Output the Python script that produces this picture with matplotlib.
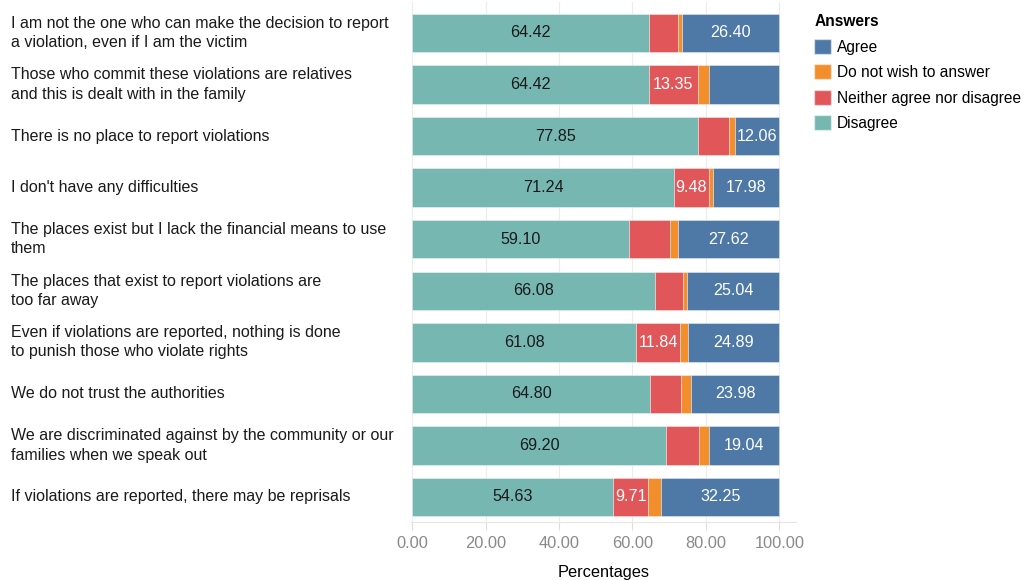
import numpy as np
import matplotlib.pyplot as plt
from matplotlib.patches import Patch
from matplotlib.transforms import blended_transform_factory

plt.rcParams['font.family'] = ['Liberation Sans', 'DejaVu Sans']

# ---------------- data ----------------
reasons = [
    "I am not the one who can make the decision to report\na violation, even if I am the victim",
    "Those who commit these violations are relatives\nand this is dealt with in the family",
    "There is no place to report violations",
    "I don't have any difficulties",
    "The places exist but I lack the financial means to use\nthem",
    "The places that exist to report violations are\ntoo far away",
    "Even if violations are reported, nothing is done\nto punish those who violate rights",
    "We do not trust the authorities",
    "We are discriminated against by the community or our\nfamilies when we speak out",
    "If violations are reported, there may be reprisals",
]
disagree = [64.42, 64.42, 77.85, 71.24, 59.10, 66.08, 61.08, 64.80, 69.20, 54.63]
neither  = [8.00, 13.35, 8.50, 9.48, 11.20, 7.70, 11.84, 8.40, 8.80, 9.71]
no_answer = [1.18, 3.08, 1.59, 1.30, 2.08, 1.18, 2.19, 2.82, 2.96, 3.41]
agree    = [26.40, 19.15, 12.06, 17.98, 27.62, 25.04, 24.89, 23.98, 19.04, 32.25]

# which segment values get a printed label
show_disagree = [True] * 10
show_neither  = [False, True, False, True, False, False, True, False, False, True]
show_noanswer = [False] * 10
show_agree    = [True, False, True, True, True, True, True, True, True, True]

series = [
    ("Disagree", disagree, "#76b7b2", "#1a1a1a", show_disagree),
    ("Neither agree nor disagree", neither, "#e15759", "white", show_neither),
    ("Do not wish to answer", no_answer, "#f28e2b", "white", show_noanswer),
    ("Agree", agree, "#4e79a7", "white", show_agree),
]

# ---------------- plot ----------------
fig = plt.figure(figsize=(10.30, 5.80), dpi=100)
ax = fig.add_axes([411.2 / 1030, 0.1, (795.8 - 411.2) / 1030, 0.8966])

y = np.arange(len(reasons))
left = np.zeros(len(reasons))
for name, vals, col, tcol, show in series:
    vals = np.array(vals)
    ax.barh(y, vals, left=left, height=0.745, color=col,
            edgecolor=(1, 1, 1, 0.45), linewidth=0.6, zorder=2)
    for yi, (l, v, s) in enumerate(zip(left, vals, show)):
        if s:
            ax.text(l + v / 2, yi, f"{v:.2f}", ha='center', va='center',
                    color=tcol, fontsize=11.6, zorder=3)
    left += vals

ax.set_xlim(-0.3, 104.5)
ax.set_ylim(9.485, -0.6)
ax.set_xticks(np.arange(0, 101, 20))
ax.set_xticklabels([f"{t:.2f}" for t in np.arange(0, 101, 20)])
ax.tick_params(axis='x', colors='#dddddd', labelcolor='#8a8a8a',
               labelsize=11.8, length=6, width=0.8, pad=4)
ax.set_yticks([])
ax.grid(axis='x', color='#ececec', linewidth=0.8, zorder=0)
for s in ['top', 'right', 'left']:
    ax.spines[s].set_visible(False)
ax.spines['bottom'].set_color('#e6e6e6')
ax.set_xlabel("Percentages", fontsize=11.8, labelpad=10)

# category labels, left aligned at the figure edge
tr = blended_transform_factory(fig.transFigure, ax.transData)
for yi, lab in enumerate(reasons):
    ax.text(11 / 1030, yi, lab, transform=tr, ha='left', va='center',
            fontsize=11.5, linespacing=1.36, color='#1a1a1a')

# legend
handles = [Patch(facecolor=c, edgecolor=(1, 1, 1, 0.5), label=n)
           for n, _, c, _, _ in series[::-1]]
leg = fig.legend(handles=handles, title="Answers", loc='upper left',
                 bbox_to_anchor=(808 / 1030, 1 - 8 / 580), frameon=False,
                 fontsize=11.2, title_fontproperties={'weight': 'bold', 'size': 11.2},
                 handlelength=1.1, handleheight=1.1, handletextpad=0.38,
                 labelspacing=0.62, alignment='left', borderaxespad=0)
leg._legend_box.sep = 7

fig.savefig("out.png", dpi=100)
